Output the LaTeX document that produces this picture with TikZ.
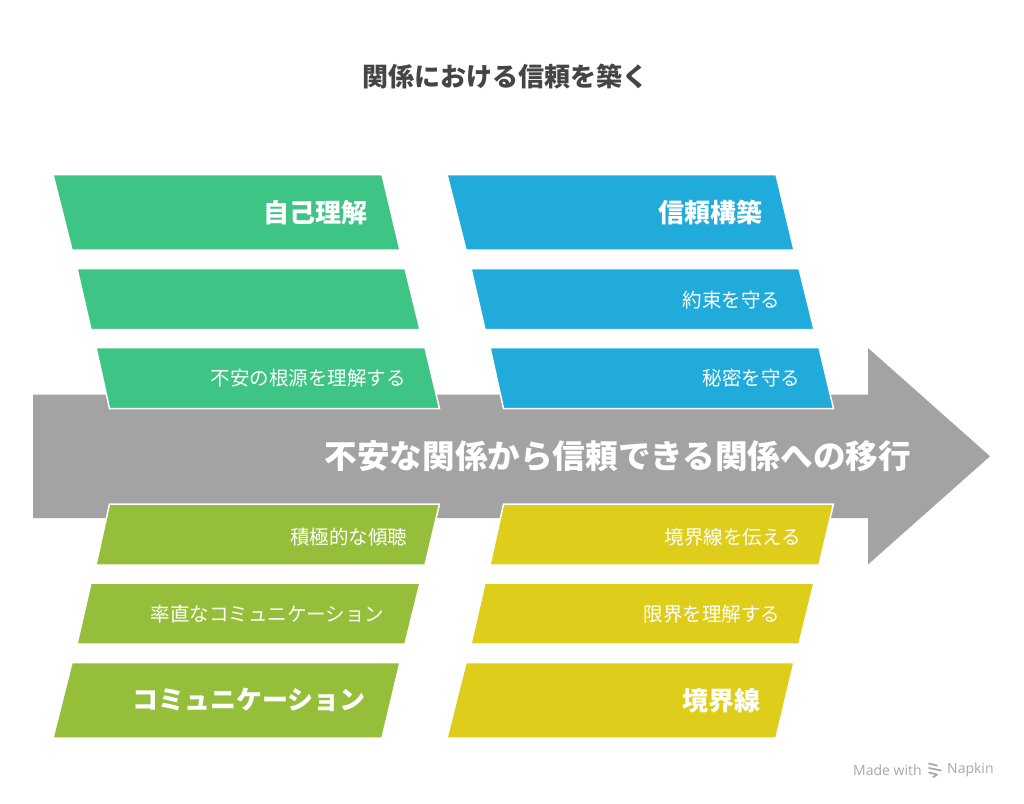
\documentclass[tikz,border=0pt]{standalone}
\usepackage{fontspec}
\newfontfamily\cjk{Noto Sans CJK JP}
\newfontfamily\wmfont{Open Sans}
\definecolor{cgreen}{HTML}{3EC586}
\definecolor{cblue}{HTML}{20ABDA}
\definecolor{clime}{HTML}{95BF3B}
\definecolor{cyellow}{HTML}{DECD1A}
\definecolor{carrow}{HTML}{A3A3A3}
\definecolor{ctitle}{HTML}{454545}
\definecolor{cwm}{HTML}{A8A8A8}
\begin{document}
\begin{tikzpicture}[x=1pt,y=-1pt,
  box/.style={draw=white,line width=1.5pt,line join=miter},
  big/.style={anchor=east,inner sep=0pt,text=white,font=\cjk\bfseries\fontsize{26}{30}\selectfont},
  small/.style={anchor=east,inner sep=0pt,text=white,font=\cjk\fontsize{19.5}{23}\selectfont},
  wm/.style={anchor=west,inner sep=0pt,text=cwm,font=\wmfont\fontsize{14}{16}\selectfont}]
\useasboundingbox[fill=white] (0,0) rectangle (1024,803);
% title
\node[font=\cjk\bfseries\fontsize{26}{30}\selectfont,text=ctitle,inner sep=0pt] (title) at (505,77) {関係における信頼を築く};
% arrow
\path[fill=carrow] (33,394.5) -- (868,394.5) -- (868,348) -- (990,456.25) -- (868,564.5) -- (868,518) -- (33,518) -- cycle;
% upper left (green)
\path[box,fill=cgreen] (53,174.5) -- (382,174.5) -- (400,250) -- (72,250) -- cycle;
\path[box,fill=cgreen] (77,268.5) -- (405,268.5) -- (420,329.5) -- (91,329.5) -- cycle;
\path[box,fill=cgreen] (96,347.5) -- (425,347.5) -- (439.5,408.5) -- (109.5,408.5) -- cycle;
% upper right (blue)
\begin{scope}[xshift=394pt]
\path[box,fill=cblue] (53,174.5) -- (382,174.5) -- (400,250) -- (72,250) -- cycle;
\path[box,fill=cblue] (77,268.5) -- (405,268.5) -- (420,329.5) -- (91,329.5) -- cycle;
\path[box,fill=cblue] (96,347.5) -- (425,347.5) -- (439.5,408.5) -- (109.5,408.5) -- cycle;
\end{scope}
% lower left (lime)
\path[box,fill=clime] (109.5,504) -- (439.5,504) -- (425,565) -- (96,565) -- cycle;
\path[box,fill=clime] (91,583) -- (420,583) -- (405,644) -- (77,644) -- cycle;
\path[box,fill=clime] (72,662.5) -- (400,662.5) -- (382,738) -- (53,738) -- cycle;
% lower right (yellow)
\begin{scope}[xshift=394pt]
\path[box,fill=cyellow] (109.5,504) -- (439.5,504) -- (425,565) -- (96,565) -- cycle;
\path[box,fill=cyellow] (91,583) -- (420,583) -- (405,644) -- (77,644) -- cycle;
\path[box,fill=cyellow] (72,662.5) -- (400,662.5) -- (382,738) -- (53,738) -- cycle;
\end{scope}
% labels
\node[big] (self) at (368,213) {自己理解};
\node[small] (anx) at (406,378) {不安の根源を理解する};
\node[big] (trust) at (762.5,213) {信頼構築};
\node[small] (promise) at (780.5,300) {約束を守る};
\node[small] (secret) at (800.5,378) {秘密を守る};
\node[anchor=east,inner sep=0pt,text=white,font=\cjk\bfseries\fontsize{32.6}{38}\selectfont] (main) at (911,456) {不安な関係から信頼できる関係への移行};
\node[small] (listen) at (407.5,537) {積極的な傾聴};
\node[small] (frank) at (384.5,614) {率直なコミュニケーション};
\node[big] (comm) at (366,700) {コミュニケーション};
\node[small] (tell) at (801,537) {境界線を伝える};
\node[small] (limit) at (780.5,614) {限界を理解する};
\node[big] (bound) at (761,701) {境界線};
% watermark
\node[wm] (wm1) at (853,770) {Made with};
\begin{scope}[cwm,line width=1.7pt,line cap=round]
\draw (929,763.5) -- (937,765.5);
\draw (929,768) -- (941,770.5);
\draw (929,772.5) -- (937,774.5);
\draw (933,777) -- (937,775);
\end{scope}
\node[wm] (wm2) at (947,770) {Napkin};
\end{tikzpicture}
\end{document}
